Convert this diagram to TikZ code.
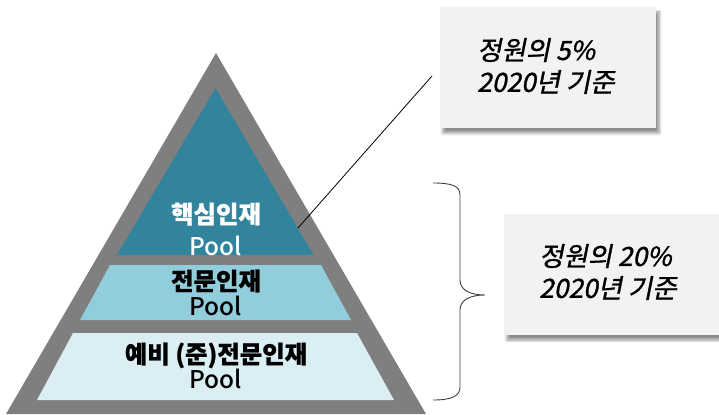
\documentclass[tikz,border=0pt]{standalone}
\usepackage{fontspec}
\setmainfont{Noto Sans CJK KR}
\newfontfamily\cjkit{Noto Sans CJK KR}[FakeSlant=0.2,FakeBold=1.2]
\newfontfamily\cjkpool{Noto Sans CJK KR Medium}
\newfontfamily\cjkhead{Noto Sans CJK KR}[BoldFeatures={FakeBold=0.8}]
\usetikzlibrary{shadows.blur}
\definecolor{pgray}{HTML}{7F7F7F}
\definecolor{tealA}{HTML}{31849B}
\definecolor{blueB}{HTML}{92CDDC}
\definecolor{blueC}{HTML}{DAEEF3}
\definecolor{boxfill}{HTML}{F2F2F2}
\definecolor{bracegray}{HTML}{404040}
\newcommand\layerhead[1]{{\cjkhead\bfseries #1}}
\newcommand\layerpool{{\cjkpool Pool}}
\begin{document}
\begin{tikzpicture}[x=1bp,y=1bp,
  layertext/.style={align=center,font=\fontsize{24.5}{25}\selectfont,inner sep=0pt},
  callout/.style={fill=boxfill,draw=none,inner sep=0pt,minimum width=216bp,minimum height=121bp,
    blur shadow={shadow xshift=3bp,shadow yshift=-5bp,shadow blur steps=6,shadow blur radius=3bp,shadow opacity=45}},
  callouttext/.style={align=left,font=\cjkit\fontsize{26.5}{32}\selectfont,inner sep=0pt,anchor=west}]
\useasboundingbox (0,0) rectangle (719,414);
% pyramid
\fill[pgray] (216,361) -- (6,0) -- (426,0) -- cycle;
\fill[tealA] (215.5,326) -- (117,159) -- (313.5,159) -- cycle;
\fill[blueB] (110,149) -- (321,149) -- (351,94) -- (80,94) -- cycle;
\fill[blueC] (73,81) -- (357,81) -- (394,14) -- (37,14) -- cycle;
\node[layertext,text=white,font=\fontsize{24.5}{32}\selectfont] (core) at (216,185) {\layerhead{핵심인재}\\\layerpool};
\node[layertext] (expert) at (216,121.5) {\layerhead{전문인재}\\\layerpool};
\node[layertext] (reserve) at (216,48.5) {\layerhead{예비 (준)전문인재}\\\layerpool};
% callouts
\node[callout] (box1) at (548,346.5) {};
\node[callouttext] (t1) at (477,348) {정원의 5\%\\2020년 기준};
\node[callout] (box2) at (612,139.5) {};
\node[callouttext] (t2) at (539,142) {정원의 20\%\\2020년 기준};
% leader line
\coordinate (lt) at (432,338);
\coordinate (le) at (298,186);
\draw[black,line width=0.8bp] (lt) -- (le);
% brace
\coordinate (btop) at (433,231);
\coordinate (btip) at (485,119);
\coordinate (bbot) at (433,14);
\draw[bracegray,line width=0.9bp] (btop) .. controls (452,231) and (460,228) .. (460,219)
  -- (460,134) .. controls (460,124) and (470,119) .. (btip)
  .. controls (470,119) and (460,114) .. (460,104)
  -- (460,27) .. controls (460,18) and (452,14) .. (bbot);
\end{tikzpicture}
\end{document}
